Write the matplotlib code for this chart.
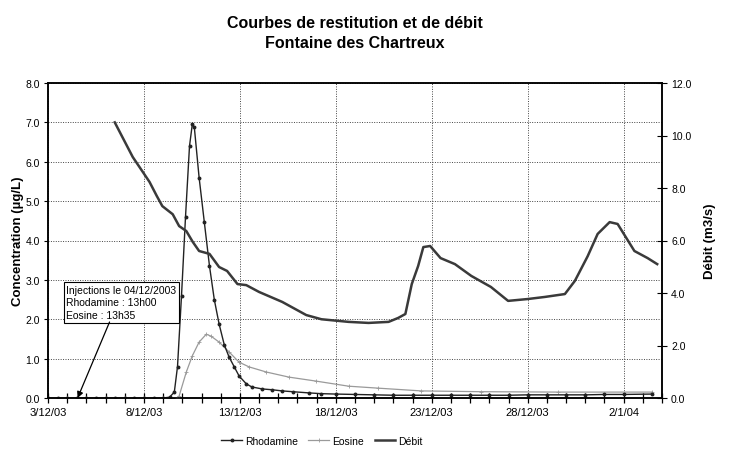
import matplotlib
matplotlib.use("Agg")
import matplotlib.pyplot as plt
import matplotlib.dates as mdates
import pandas as pd
from matplotlib.lines import Line2D

plt.rcParams['font.family'] = ['Liberation Sans', 'DejaVu Sans']

# ---------------- data ----------------
title_lines = ["Courbes de restitution et de débit", "Fontaine des Chartreux"]
ylabel_left = "Concentration (µg/L)"
ylabel_right = "Débit (m3/s)"
annotation_text = "Injections le 04/12/2003\nRhodamine : 13h00\nEosine : 13h35"
injection_time = "2003-12-04 13:00"

debit_time = ["2003-12-06 11:30", "2003-12-07 10:00", "2003-12-08 07:00", "2003-12-08 16:00",
              "2003-12-08 23:00", "2003-12-09 12:00", "2003-12-09 20:00", "2003-12-10 05:00",
              "2003-12-10 13:00", "2003-12-10 21:00", "2003-12-11 10:00", "2003-12-11 22:00",
              "2003-12-12 08:00", "2003-12-12 21:00", "2003-12-13 08:00", "2003-12-14 00:00",
              "2003-12-15 05:00", "2003-12-16 11:00", "2003-12-17 06:00", "2003-12-18 16:00",
              "2003-12-19 17:00", "2003-12-20 18:00", "2003-12-21 06:00", "2003-12-21 15:00",
              "2003-12-21 19:00", "2003-12-21 23:00", "2003-12-22 07:00", "2003-12-22 13:30",
              "2003-12-22 22:00", "2003-12-23 11:00", "2003-12-24 05:00", "2003-12-25 01:30",
              "2003-12-26 02:00", "2003-12-26 23:30", "2003-12-28 00:00", "2003-12-28 21:30",
              "2003-12-29 22:30", "2003-12-30 11:00", "2003-12-31 03:00", "2003-12-31 15:30",
              "2004-01-01 06:30", "2004-01-01 16:30", "2004-01-02 13:30", "2004-01-03 06:00",
              "2004-01-03 18:00"]
debit_value = [10.5, 9.18, 8.23, 7.7, 7.31, 7.0, 6.55, 6.36, 5.95, 5.6, 5.49, 4.99,
               4.84, 4.34, 4.3, 4.04, 3.66, 3.16, 3.0, 2.9, 2.86, 2.9, 3.05, 3.2,
               3.77, 4.34, 5.03, 5.75, 5.79, 5.33, 5.1, 4.65, 4.23, 3.7, 3.77, 3.85,
               3.96, 4.46, 5.4, 6.25, 6.7, 6.63, 5.6, 5.33, 5.1]

rhoda_time = ["2003-12-03 00:00", "2003-12-03 12:00", "2003-12-04 00:00", "2003-12-04 12:00",
              "2003-12-05 00:00", "2003-12-05 12:00", "2003-12-06 00:00", "2003-12-06 12:00",
              "2003-12-07 00:00", "2003-12-07 12:00", "2003-12-08 00:00", "2003-12-08 12:00",
              "2003-12-09 00:00", "2003-12-09 08:00", "2003-12-09 14:00", "2003-12-09 18:00",
              "2003-12-09 23:00", "2003-12-10 04:00", "2003-12-10 09:00", "2003-12-10 12:30",
              "2003-12-10 15:00", "2003-12-10 21:00", "2003-12-11 03:30", "2003-12-11 10:00",
              "2003-12-11 16:00", "2003-12-11 22:00", "2003-12-12 04:30", "2003-12-12 10:30",
              "2003-12-12 17:00", "2003-12-12 23:00", "2003-12-13 08:00", "2003-12-13 15:00",
              "2003-12-14 04:00", "2003-12-14 16:00", "2003-12-15 05:00", "2003-12-15 18:00",
              "2003-12-16 14:00", "2003-12-17 06:00", "2003-12-18 00:00", "2003-12-19 00:00",
              "2003-12-20 00:00", "2003-12-21 00:00", "2003-12-22 00:00", "2003-12-23 00:00",
              "2003-12-24 00:00", "2003-12-25 00:00", "2003-12-26 00:00", "2003-12-27 00:00",
              "2003-12-28 00:00", "2003-12-29 00:00", "2003-12-30 00:00", "2003-12-31 00:00",
              "2004-01-01 00:00", "2004-01-02 00:00", "2004-01-03 12:00"]
rhoda_value = [0.0, 0.0, 0.0, 0.0, 0.0, 0.0, 0.0, 0.0, 0.0, 0.0, 0.0, 0.0,
               0.0, 0.02, 0.15, 0.8, 2.6, 4.6, 6.4, 6.95, 6.88, 5.6, 4.47, 3.35,
               2.5, 1.88, 1.35, 1.04, 0.79, 0.56, 0.36, 0.28, 0.23, 0.21, 0.18, 0.16,
               0.13, 0.11, 0.1, 0.09, 0.08, 0.07, 0.07, 0.07, 0.07, 0.07, 0.07, 0.07,
               0.08, 0.08, 0.08, 0.08, 0.09, 0.09, 0.1]

eosin_time = ["2003-12-03 00:00", "2003-12-04 00:00", "2003-12-05 00:00", "2003-12-06 00:00",
              "2003-12-07 00:00", "2003-12-08 00:00", "2003-12-09 00:00", "2003-12-09 17:00",
              "2003-12-09 20:00", "2003-12-10 05:00", "2003-12-10 12:30", "2003-12-10 21:00",
              "2003-12-11 06:00", "2003-12-11 12:00", "2003-12-11 22:00", "2003-12-12 10:30",
              "2003-12-12 23:00", "2003-12-13 11:30", "2003-12-14 09:00", "2003-12-15 13:30",
              "2003-12-16 23:00", "2003-12-18 16:00", "2003-12-20 05:00", "2003-12-22 11:00",
              "2003-12-25 14:00", "2003-12-29 14:00", "2004-01-03 12:00"]
eosin_value = [0.0, 0.0, 0.0, 0.0, 0.0, 0.0, 0.0, 0.0, 0.05, 0.66, 1.07, 1.42,
               1.62, 1.57, 1.42, 1.17, 0.91, 0.79, 0.66, 0.53, 0.43, 0.3, 0.25, 0.18,
               0.16, 0.15, 0.15]

date_ticks = ["2003-12-03", "2003-12-08", "2003-12-13", "2003-12-18", "2003-12-23",
              "2003-12-28", "2004-01-02"]
x_start, x_end = "2003-12-03", "2004-01-04"

# ---------------- figure ----------------
fig = plt.figure(figsize=(7.39, 4.52), dpi=100)
ax = fig.add_axes([48 / 739, 1 - 399 / 452, (662 - 48) / 739, (399 - 84) / 452])
ax2 = ax.twinx()

dt = lambda s: pd.to_datetime(s)

ax.plot(dt(rhoda_time), rhoda_value, color='#222222', lw=1.0, marker='o', ms=1.8,
        mfc='#222222', mec='#222222', zorder=4)
ax.plot(dt(eosin_time), eosin_value, color='#9a9a9a', lw=0.9, marker='+', ms=2.5,
        mew=0.6, zorder=3)
ax2.plot(dt(debit_time), debit_value, color='#3a3a3a', lw=1.8, zorder=5,
         solid_joinstyle='round')

ax.set_xlim(dt(x_start), dt(x_end))
ax.set_ylim(0, 8)
ax2.set_ylim(0, 12)

ax.set_yticks([0, 1, 2, 3, 4, 5, 6, 7, 8])
ax.yaxis.set_major_formatter(matplotlib.ticker.FormatStrFormatter('%.1f'))
ax2.set_yticks([0, 2, 4, 6, 8, 10, 12])
ax2.yaxis.set_major_formatter(matplotlib.ticker.FormatStrFormatter('%.1f'))

ax.set_xticks(dt(date_ticks))
ax.set_xticklabels([f"{d.day}/{d.month}/{d.strftime('%y')}" for d in dt(date_ticks)])
ax.xaxis.set_minor_locator(mdates.DayLocator())

ax.grid(True, which='major', linestyle=(0, (1, 1.5)), color='#444444', lw=0.7)
ax.set_axisbelow(True)

for a in (ax, ax2):
    for sp in a.spines.values():
        sp.set_linewidth(1.1)
        sp.set_color('black')

ax.tick_params(axis='x', which='major', direction='inout', length=7, width=0.9,
               labelsize=8, pad=3)
ax.tick_params(axis='x', which='minor', direction='inout', length=7, width=0.9)
ax.tick_params(axis='y', direction='out', length=3, width=0.8, labelsize=7.5, pad=3)
ax2.tick_params(axis='y', direction='inout', length=7, width=0.8, labelsize=7.5, pad=3)

ax.set_ylabel(ylabel_left, fontsize=9.5, fontweight='bold', labelpad=1)
ax2.set_ylabel(ylabel_right, fontsize=9.5, fontweight='bold', labelpad=9)

# annotation
ax.text(dt("2003-12-03 23:00"), 2.88, annotation_text, fontsize=7.5, va='top', ha='left',
        linespacing=1.35, zorder=6,
        bbox=dict(boxstyle='square,pad=0.25', fc='white', ec='black', lw=0.8))
ax.annotate('', xy=(dt(injection_time), 0.0), xytext=(dt("2003-12-06 05:00"), 1.93),
            arrowprops=dict(arrowstyle='-|>', color='black', lw=0.9,
                            mutation_scale=9, shrinkA=0, shrinkB=0), zorder=6)

# titles
fig.text(355 / 739, 1 - 23 / 452, title_lines[0], ha='center', va='center',
         fontsize=11.5, fontweight='bold')
fig.text(355 / 739, 1 - 43 / 452, title_lines[1], ha='center', va='center',
         fontsize=11.5, fontweight='bold')

# legend
handles = [Line2D([], [], color='#222222', lw=1.0, marker='o', ms=1.8),
           Line2D([], [], color='#9a9a9a', lw=0.9, marker='+', ms=2.5, mew=0.6),
           Line2D([], [], color='#3a3a3a', lw=1.8)]
fig.legend(handles, ["Rhodamine", "Eosine", "Débit"], loc='center',
           bbox_to_anchor=(322 / 739, 1 - 442 / 452), ncol=3, frameon=False,
           fontsize=7.5, handlelength=2.0, columnspacing=1.0, handletextpad=0.3,
           markerfirst=True)

fig.savefig("out.png", dpi=100)
